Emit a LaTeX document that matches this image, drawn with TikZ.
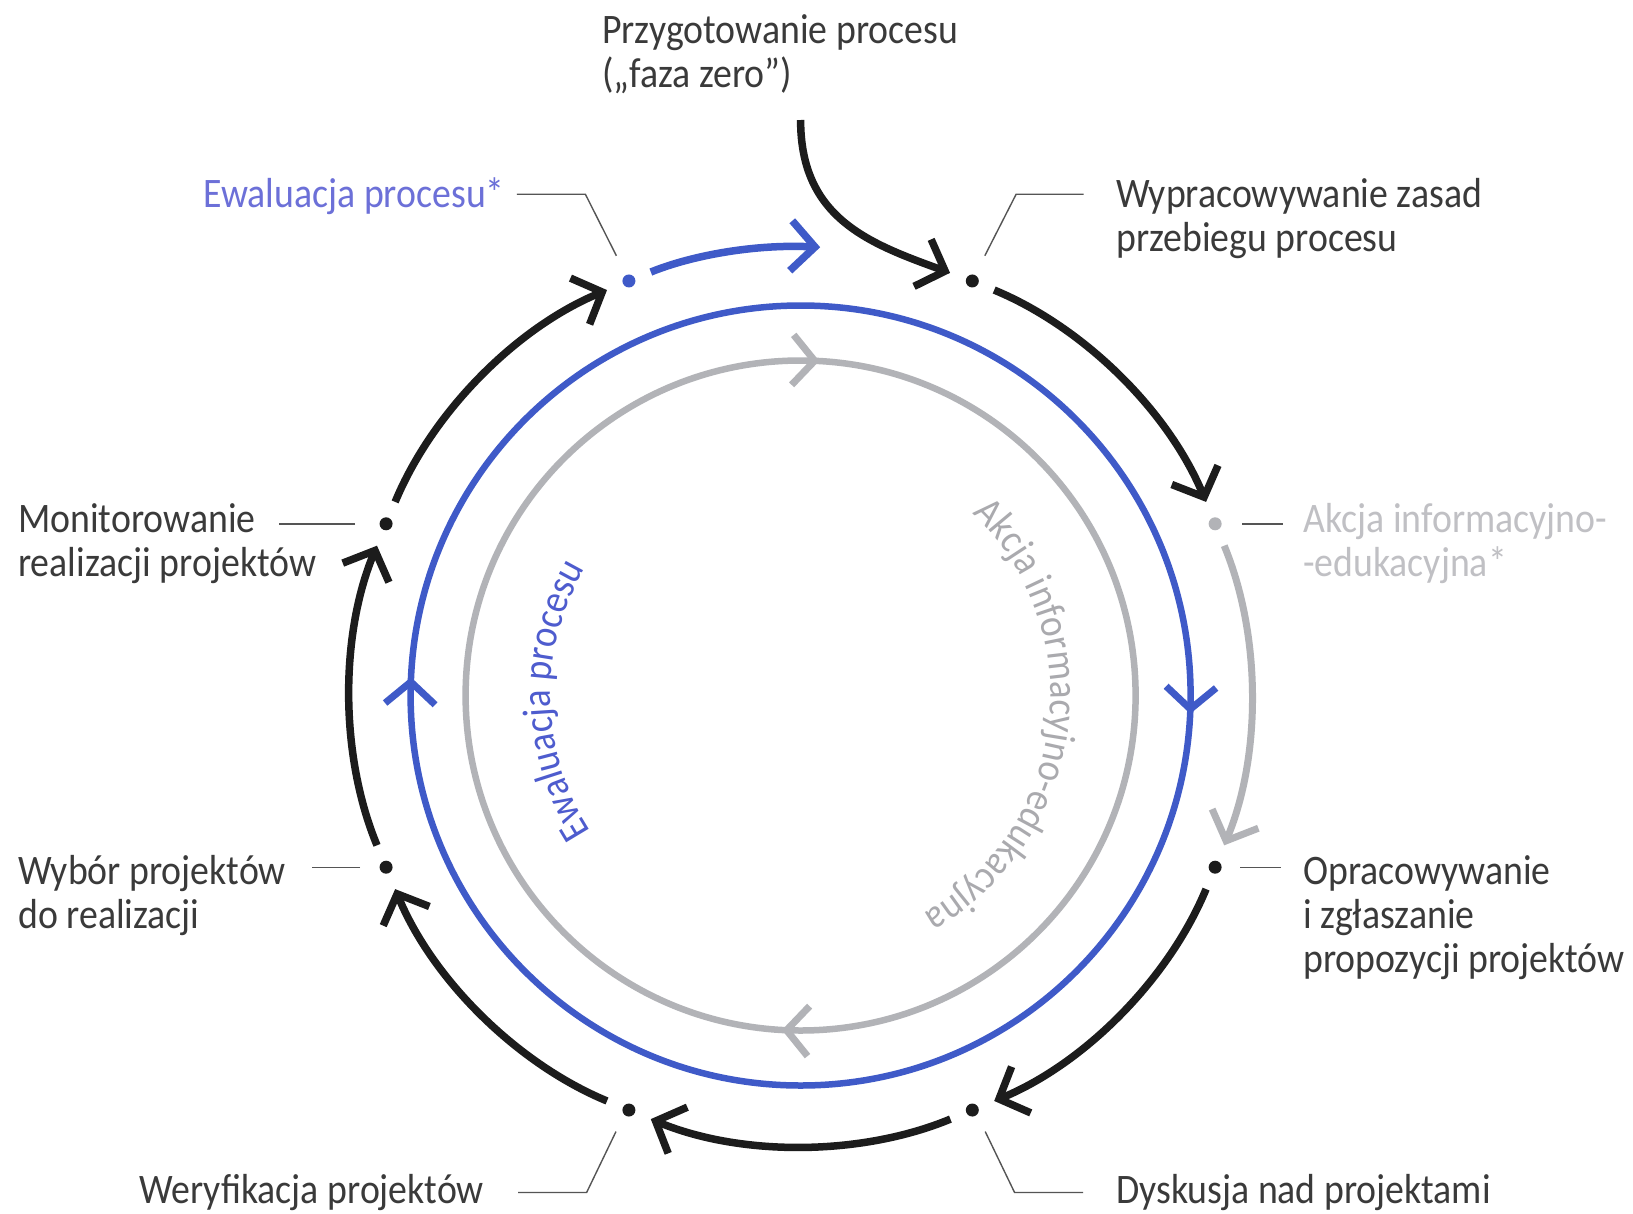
\documentclass[tikz,border=0pt]{standalone}
\usepackage{fontspec}
\setmainfont{Carlito}[FakeStretch=0.9]
\usetikzlibrary{arrows.meta,decorations.text}
\definecolor{ink}{RGB}{28,28,28}
\definecolor{txt}{RGB}{58,58,58}
\definecolor{blu}{RGB}{63,90,200}
\definecolor{blulbl}{RGB}{108,112,216}
\definecolor{blucurve}{RGB}{78,92,206}
\definecolor{gry}{RGB}{178,179,183}
\definecolor{grylbl}{RGB}{192,192,196}
\definecolor{grycurve}{RGB}{170,170,174}
\definecolor{lead}{RGB}{85,85,85}
\newcommand\mlines[1]{\begin{tabular}[t]{@{}l@{}}#1\end{tabular}}
\begin{document}
\begin{tikzpicture}[x=1pt,y=1pt,
  lbl/.style={inner sep=0pt, text=txt, font=\fontsize{42}{44}\selectfont},
  dot/.style={circle, fill=#1, inner sep=0pt, minimum size=13pt},
  tipA/.style={-{Straight Barb[sharp,length=24pt,width=50pt]}},
  ring/.style={line width=7.5pt, tipA, shorten <=17pt, shorten >=17pt, bend left=22.5, looseness=0.885},
  chev/.style={line width=7pt, line cap=butt, line join=miter},
  leader/.style={draw=lead, line width=1.4pt},
  curvetext/.style={decorate, decoration={text along path, text align=center, text color=#1}},
]
\fill[white] (0,0) rectangle (1633,-1213);
\useasboundingbox (0,0) rectangle (1633,-1213);

\coordinate (C) at (800.6,-695.5);

% inner circles
\draw[gry, line width=6.5pt] (C) circle[radius=335];
\draw[gry, chev] ([shift={(-6.9,360.6)}]C) -- ([shift={(14.03,334.71)}]C) -- ([shift={(-9.0,310.65)}]C);
\draw[gry, chev] ([shift={(6.9,-360.6)}]C) -- ([shift={(-14.03,-334.71)}]C) -- ([shift={(9.0,-310.65)}]C);
\draw[blu, line width=6.5pt] (C) circle[radius=390];
\draw[blu, chev] ([shift={(415.5,7.5)}]C) -- ([shift={(389.76,-13.61)}]C) -- ([shift={(365.5,9.25)}]C);
\draw[blu, chev] ([shift={(-415.5,-7.5)}]C) -- ([shift={(-389.76,13.61)}]C) -- ([shift={(-365.5,-9.25)}]C);

% curved texts
\path[curvetext=blucurve, decoration={text={|\fontsize{41}{44}\selectfont|Ewaluacja procesu}}]
  ([shift={(221:250)}]C) arc[start angle=221, end angle=141.5, radius=250];
\path[curvetext=grycurve, decoration={text={|\fontsize{41}{44}\selectfont|Akcja informacyjno-edukacyjna}}]
  ([shift={(60:250)}]C) arc[start angle=60, end angle=-74, radius=250];

% dots
\node[dot=ink] (d1) at ([shift={(67.5:448.7)}]C) {};
\node[dot=gry] (d2) at ([shift={(22.5:448.7)}]C) {};
\node[dot=ink] (d3) at ([shift={(-22.5:448.7)}]C) {};
\node[dot=ink] (d4) at ([shift={(-67.5:448.7)}]C) {};
\node[dot=ink] (d5) at ([shift={(-112.5:448.7)}]C) {};
\node[dot=ink] (d6) at ([shift={(-157.5:448.7)}]C) {};
\node[dot=ink] (d7) at ([shift={(157.5:448.7)}]C) {};
\node[dot=blu] (d8) at ([shift={(112.5:448.7)}]C) {};
\coordinate (bt) at ([shift={(87.5:448.7)}]C);
\coordinate (fz) at (800.6,-120);

% outer ring arrows
\draw[ring, ink] (d1) to (d2);
\draw[ring, gry, line width=7pt] (d2) to (d3);
\draw[ring, ink] (d3) to (d4);
\draw[ring, ink] (d4) to (d5);
\draw[ring, ink] (d5) to (d6);
\draw[ring, ink] (d6) to (d7);
\draw[ring, ink] (d7) to (d8);
\draw[ring, blu, shorten >=0pt, bend left=12.5, looseness=0.862] (d8) to (bt);
\draw[ink, line width=7.5pt, tipA, shorten >=17pt]
  (fz) to[out=-90, in=160, out looseness=1.1, in looseness=1.15] (d1);

% labels
\node[lbl, anchor=base west] (prz) at (602,-43) {\mlines{Przygotowanie procesu\\(„faza zero”)}};
\node[lbl, anchor=base west] (wyp) at (1116,-207) {\mlines{Wypracowywanie zasad\\przebiegu procesu}};
\node[lbl, text=blulbl, anchor=base east] (ewl) at (505,-207) {Ewaluacja procesu*};
\node[lbl, text=grylbl, anchor=base west] (akc) at (1303,-532) {\mlines{Akcja informacyjno-\\-edukacyjna*}};
\node[lbl, anchor=base west] (opr) at (1303,-884) {\mlines{Opracowywanie\\i zgłaszanie\\propozycji projektów}};
\node[lbl, anchor=base west] (dys) at (1116,-1203) {Dyskusja nad projektami};
\node[lbl, anchor=base east] (wer) at (484,-1203) {Weryfikacja projektów};
\node[lbl, anchor=base west] (wyb) at (18,-884) {\mlines{Wybór projektów\\do realizacji}};
\node[lbl, anchor=base west] (mon) at (18,-532) {\mlines{Monitorowanie\\realizacji projektów}};

% leader lines
\draw[leader] ([shift={(111.3,86.7)}]d1.center) -- ([shift={(43.8,86.7)}]d1.center) -- ([shift={(12.5,25.2)}]d1.center);
\draw[leader] ([shift={(-112,86.7)}]d8.center) -- ([shift={(-43.5,86.7)}]d8.center) -- ([shift={(-12.5,25.2)}]d8.center);
\draw[leader] ([shift={(27,0)}]d2.center) -- ([shift={(68,0)}]d2.center);
\draw[leader] ([shift={(25,0)}]d3.center) -- ([shift={(66,0)}]d3.center);
\draw[leader] ([shift={(12.9,-21.5)}]d4.center) -- ([shift={(42.3,-82.5)}]d4.center) -- ([shift={(110.7,-82.5)}]d4.center);
\draw[leader] ([shift={(-12.9,-21.5)}]d5.center) -- ([shift={(-42.3,-82.5)}]d5.center) -- ([shift={(-110.7,-82.5)}]d5.center);
\draw[leader] ([shift={(-26,0)}]d6.center) -- ([shift={(-74,0)}]d6.center);
\draw[leader] ([shift={(-31,0)}]d7.center) -- ([shift={(-107,0)}]d7.center);
\end{tikzpicture}
\end{document}
